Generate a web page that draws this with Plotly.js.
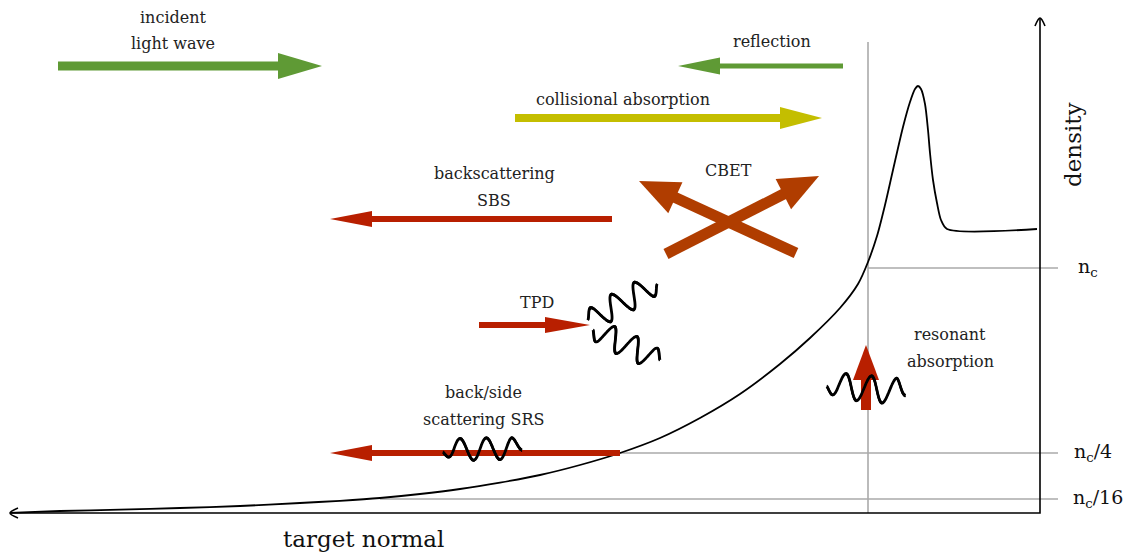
<!DOCTYPE html>
<html><head><meta charset="utf-8">
<script src="https://cdn.plot.ly/plotly-3.0.1.min.js"></script>
<style>html,body{margin:0;padding:0;background:#fff}</style>
</head><body><div id="chart" style="width:1136px;height:554px"></div>
<script>
// ---- density profile along the target normal ----
const profileX = [10, 60, 120, 180, 240, 300, 340, 380, 420, 460, 500, 540, 580, 620, 660, 700, 740, 780, 810, 840, 858, 868, 877, 885, 893, 903, 910, 915, 918, 921, 925, 928, 930, 933, 937, 941, 947, 1037];
const profileY = [512.8, 511, 509.7, 508, 506, 503, 500.8, 498, 494, 489, 482.6, 475, 465, 453, 438, 418, 394, 364, 338, 308, 284, 262, 236, 205, 170, 127, 102, 89, 86, 89, 104, 130, 153, 180, 203, 220, 229, 229];

// ---- reference density levels ----
const levelLabels = ['n<sub>c</sub>', 'n<sub>c</sub>/4', 'n<sub>c</sub>/16'];
const levelY = [268, 453, 499];
const levelXStart = [868, 620, 380];

// ---- process arrows ----
const arrowNames = ['incident', 'reflection', 'collisional', 'SBS', 'CBET1', 'CBET2', 'TPD', 'SRS', 'resonant'];
const arrowTailX = [58, 843, 515, 612, 796, 666, 479, 620, 866];
const arrowTailY = [66, 66, 118, 219, 253, 254, 325, 453, 410];
const arrowTipX = [322, 678, 822, 330, 639, 819, 590, 330, 866];
const arrowTipY = [66, 66, 118, 219, 181, 176, 325, 453, 345];

// ---- text labels ----
const labelTexts = ['incident', 'light wave', 'reflection', 'collisional absorption', 'backscattering', 'SBS', 'CBET', 'TPD', 'resonant', 'absorption', 'back/side', 'scattering SRS'];
const labelX = [173, 173, 772, 623, 494, 494, 728, 537, 950, 950, 483, 483];
const labelY = [17, 43, 41, 99, 173, 200, 170, 302, 334, 361, 392, 419];

// ---- styles (not data) ----
const GREEN = '#5f9a35', YELLOW = '#c4be00', RED = '#b81f00', BROWN = '#b03d00';
const arrowStyle = {
  incident:   {c: GREEN,  w: 9,  hl: 44, hw: 26},
  reflection: {c: GREEN,  w: 5,  hl: 42, hw: 17},
  collisional:{c: YELLOW, w: 8,  hl: 42, hw: 22},
  SBS:        {c: RED,    w: 6,  hl: 42, hw: 16},
  CBET1:      {c: BROWN,  w: 11, hl: 40, hw: 34},
  CBET2:      {c: BROWN,  w: 11, hl: 40, hw: 34},
  TPD:        {c: RED,    w: 6,  hl: 45, hw: 16},
  SRS:        {c: RED,    w: 6,  hl: 42, hw: 16},
  resonant:   {c: RED,    w: 10, hl: 35, hw: 26}
};
const FONT = 'DejaVu Serif, Liberation Serif, serif';

const traces = [];
const shapes = [];
const annotations = [];

function addArrow(x0, y0, x1, y1, s) {
  const dx = x1 - x0, dy = y1 - y0, L = Math.hypot(dx, dy);
  const ux = dx / L, uy = dy / L, px = -uy, py = ux;
  const bx = x1 - ux * s.hl, by = y1 - uy * s.hl;
  traces.push({x: [x0, bx + ux * 2], y: [y0, by + uy * 2], mode: 'lines',
    line: {color: s.c, width: s.w}, hoverinfo: 'skip', showlegend: false});
  traces.push({x: [x1, bx + px * s.hw / 2, bx - px * s.hw / 2, x1],
    y: [y1, by + py * s.hw / 2, by - py * s.hw / 2, y1],
    mode: 'lines', fill: 'toself', fillcolor: s.c, line: {width: 0, color: s.c},
    hoverinfo: 'skip', showlegend: false});
}

// decorative wavy "plasma wave" glyph (hand-sketched look: several thin strokes)
function addWave(x0, y0, x1, y1, periods, amp, phase) {
  const dx = x1 - x0, dy = y1 - y0, L = Math.hypot(dx, dy);
  const px = -dy / L, py = dx / L;
  const strokes = [[0, 0, 2.8], [1.0, 0.07, 1.1], [-1.0, -0.07, 1.1], [0.4, 0.12, 0.8]];
  strokes.forEach(([off, ph, w]) => {
    const xs = [], ys = [];
    for (let i = 0; i <= 120; i++) {
      const t = i / 120;
      const env = Math.min(1, 0.35 + 2.5 * Math.min(t, 1 - t) * 2);
      const a = amp * env * Math.sin(2 * Math.PI * periods * t + phase + ph);
      xs.push(x0 + dx * t + px * (a + off));
      ys.push(y0 + dy * t + py * (a + off));
    }
    traces.push({x: xs, y: ys, mode: 'lines', line: {color: '#000', width: w, shape: 'spline'},
      hoverinfo: 'skip', showlegend: false});
  });
}

// reference lines
traces.push({x: [868, 868], y: [42, 513], mode: 'lines', line: {color: '#aaaaaa', width: 1.6}, hoverinfo: 'skip', showlegend: false});
levelY.forEach((y, i) => {
  traces.push({x: [levelXStart[i], 1058], y: [y, y], mode: 'lines', line: {color: '#aaaaaa', width: 1.6}, hoverinfo: 'skip', showlegend: false});
  annotations.push({x: [1088, 1093, 1098][i], y: y - 1, xref: 'x', yref: 'y', text: levelLabels[i], showarrow: false,
    font: {family: FONT, size: 19, color: '#111'}});
});

// axes
traces.push({x: [10, 1040, 1040], y: [513, 513, 18], mode: 'lines', line: {color: '#000', width: 1.6}, hoverinfo: 'skip', showlegend: false});
traces.push({x: [18, 10, 18], y: [508, 513, 518], mode: 'lines', line: {color: '#000', width: 1.6, shape: 'spline'}, hoverinfo: 'skip', showlegend: false});
traces.push({x: [1035, 1040, 1045], y: [26, 18, 26], mode: 'lines', line: {color: '#000', width: 1.6, shape: 'spline'}, hoverinfo: 'skip', showlegend: false});

// density profile
traces.push({x: profileX, y: profileY, mode: 'lines', line: {color: '#000', width: 1.8, shape: 'spline', smoothing: 0.8},
  hoverinfo: 'skip', showlegend: false});

// arrows
arrowNames.forEach((n, i) => addArrow(arrowTailX[i], arrowTailY[i], arrowTipX[i], arrowTipY[i], arrowStyle[n]));

// waves
addWave(588, 320, 657, 284, 3, 12, Math.PI);
addWave(593, 330, 660, 360, 3, 12, 0);
addWave(827, 385, 906, 392, 3.1, 13, 0.3);
addWave(443, 450, 522, 448, 3, 11, 0.6);

// labels
labelTexts.forEach((t, i) => annotations.push({x: labelX[i], y: labelY[i], xref: 'x', yref: 'y', text: t,
  showarrow: false, font: {family: FONT, size: 16, color: '#222'}}));
annotations.push({x: 363, y: 539, xref: 'x', yref: 'y', text: 'target normal', showarrow: false,
  font: {family: FONT, size: 23, color: '#111'}});
annotations.push({x: 1073, y: 145, xref: 'x', yref: 'y', text: 'density', showarrow: false, textangle: -90,
  font: {family: FONT, size: 23, color: '#111'}});

const layout = {
  width: 1136, height: 554, autosize: false,
  margin: {l: 0, r: 0, t: 0, b: 0, pad: 0},
  paper_bgcolor: '#fff', plot_bgcolor: '#fff',
  xaxis: {range: [0, 1136], visible: false, fixedrange: true},
  yaxis: {range: [554, 0], visible: false, fixedrange: true},
  shapes: shapes, annotations: annotations, showlegend: false
};
Plotly.newPlot('chart', traces, layout, {staticPlot: true, displayModeBar: false});
</script>
</body></html>
